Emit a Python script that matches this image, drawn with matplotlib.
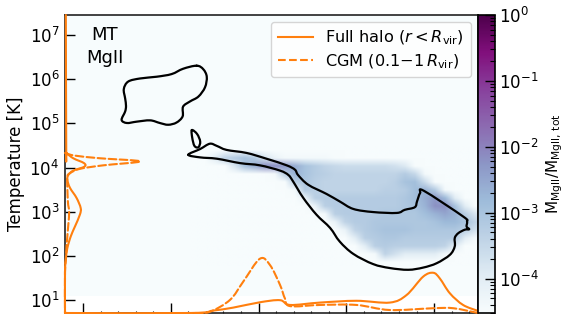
import numpy as np
import matplotlib
matplotlib.use("Agg")
import matplotlib.pyplot as plt
from matplotlib.colors import LogNorm
from matplotlib.cm import ScalarMappable
from matplotlib.lines import Line2D
from matplotlib.patches import PathPatch
from matplotlib.path import Path
from matplotlib.ticker import MultipleLocator

# Mass-weighted phase histogram: -10*log10(fraction); 0 = empty cell
heat_rows = [
    [0]*29,
    [0,0,40,34,32,30,32,38,42,44,44,44,44,44,45]+[0]*14,
    [0,0,0,0,38,30,26,22,22,23,26,30,32,34,35,36,36,36,36,36,37,39,45]+[0]*6,
    [0]*8+[44,33,27,30,32,33,34,34,34,34,34,34,34,32,35,44]+[0]*5,
    [0]*9+[45,33,31,33,34,34,34,34,34,34,34,33,30,29,36,45]+[0]*4,
    [0]*10+[44,32,33,34,34,34,34,34,34,33,33,32,29,27,32,44]+[0]*3,
    [0]*11+[42,33,32,32,32,32,32,32,32,32,31,29,26,23,28,40]+[0]*2,
    [0]*12+[42,33,32,32,32,32,32,32,32,31,30,27,22,22,30,40,46],
    [0]*13+[44,33,32,32,32,32,31,31,31,31,29,27,25,27,33,38],
    [0]*14+[42,34,32,32,31,31,31,31,31,31,30,28,28,30,34],
    [0]*15+[42,34,32,31,30,30,30,31,31,31,31,31,33,37],
    [0]*16+[40,33,32,31,31,32,32,32,32,32,32,40,44],
    [0]*17+[40,33,32,33,33,33,33,33,34,40,0,0],
    [0]*18+[44,34,37,40,40,40,40,44,0,0,0],
    [0]*19+[46,48]+[0]*8,
]
heat_x_range = [-3.56, 3.05]
heat_logt_range = [1.77, 4.49]
full_x_range = [-6.41, 3.0]
full_logt_range = [1.09, 7.46]

blob_x = [-3.41,-3.26,-3.18,-3.22,-3.37,-3.56,-3.72,-3.73,-3.87,-4.06,-4.25,-4.47,-4.78,-5.00,-5.12,-5.04,-5.02,-5.04,-5.07,-4.97,-4.70,-4.32,-3.98,-3.72,-3.41]
blob_t = [6.31,6.23,6.06,5.82,5.61,5.50,5.38,5.16,5.02,4.97,5.01,5.07,5.04,5.01,5.08,5.27,5.40,5.57,5.78,5.95,6.02,6.06,6.12,6.24,6.31]
small_x = [-3.52,-3.40,-3.33,-3.37,-3.46,-3.51,-3.52]
small_t = [4.85,4.76,4.59,4.46,4.49,4.67,4.85]
main_x = [-3.60,-3.33,-3.11,-2.95,-2.73,-2.27,-1.82,-1.36,-1.17,-1.10,-0.87,-0.45,-0.15,0.16,0.61,1.15,1.33,1.56,1.61,1.68,1.77,2.66,2.75,2.74,2.80,2.70,2.55,2.47,2.47,2.36,2.06,1.75,1.41,0.99,0.61,0.16,-0.15,-0.37,-0.68,-0.98,-1.21,-1.32,-1.51,-1.97,-2.42,-2.95,-3.33,-3.60]
main_t = [4.29,4.42,4.54,4.49,4.40,4.33,4.20,4.05,3.95,3.83,3.61,3.40,3.23,3.06,2.99,2.97,3.04,3.10,3.23,3.42,3.47,2.89,2.78,2.66,2.60,2.59,2.51,2.40,2.21,2.02,1.83,1.73,1.68,1.72,1.81,2.04,2.32,2.63,2.93,3.31,3.68,3.83,3.93,4.05,4.10,4.20,4.23,4.29]

# Temperature marginals (fraction of axis width)
tm_logt = [7.46,4.40,4.33,4.21,4.10,4.02,3.93,3.83,3.72,3.54,3.31,3.08,2.93,2.66,2.44,2.17,1.91,1.63,0.70]
tm_full = [0.002,0.003,0.004,0.020,0.046,0.047,0.020,0.008,0.0056,0.012,0.028,0.038,0.036,0.024,0.014,0.0056,0.002,0.0,0.0]
tc_logt = [4.33,4.27,4.21,4.14,4.05,3.97,3.87,3.76,3.23,3.00,2.70,2.25,1.91,1.63,0.70]
tc_cgm = [0.0,0.024,0.085,0.182,0.093,0.036,0.012,0.0056,0.007,0.010,0.008,0.004,0.002,0.0,0.0]

# Density marginals (fraction of axis height)
dm_x = [-6.41,-3.56,-3.04,-2.58,-1.97,-1.51,-1.28,-0.60,0.23,0.99,1.37,1.75,1.98,2.13,2.36,2.66,3.0]
dm_full = [0.0,0.0,0.008,0.018,0.036,0.043,0.027,0.035,0.041,0.035,0.060,0.122,0.135,0.116,0.066,0.027,0.007]
dc_x = [-3.45,-3.11,-2.65,-2.35,-1.97,-1.74,-1.51,-1.40,-1.28,-0.60,0.23,0.99,1.98,2.44,3.0]
dc_cgm = [0.0,0.004,0.044,0.105,0.182,0.161,0.094,0.049,0.023,0.027,0.027,0.010,0.016,0.016,0.0]

y_ticks = [1, 2, 3, 4, 5, 6, 7]
x_ticks = [-6, -4, -2, 0, 2]
cbar_ticks = [1e-4, 1e-3, 1e-2, 1e-1, 1]
legend_labels = [r"Full halo ($r < R_{\rm vir}$)", r"CGM ($0.1{-}1\,R_{\rm vir}$)"]

ORANGE = "#ff7f0e"
DASH = (0, (3.7, 1.6))


def curve(a, xs, ys, **kw):
    """Draw a curve through the read points as a smooth Bezier path."""
    p = np.column_stack([xs, ys]).astype(float)
    closed = np.allclose(p[0], p[-1])
    verts, codes = [p[0]], [Path.MOVETO]
    n = len(p)
    for i in range(n - 1):
        if closed:
            p0, p3 = p[(i - 1) % (n - 1)], p[(i + 2) % (n - 1)]
        else:
            p0, p3 = p[max(i - 1, 0)], p[min(i + 2, n - 1)]
        c1 = p[i] + (p[i + 1] - p0) / 6
        c2 = p[i + 1] - (p3 - p[i]) / 6
        verts += [c1, c2, p[i + 1]]
        codes += [Path.CURVE4] * 3
    a.add_patch(PathPatch(Path(verts, codes), fill=False, capstyle="round", joinstyle="round", **kw))


W, H = 571, 314
fig = plt.figure(figsize=(W/100, H/100), dpi=100)
pos = [65/W, 1/H, 413/W, 298/H]
ax = fig.add_axes(pos)
norm = LogNorm(vmin=3e-5, vmax=1)
cmap = plt.get_cmap("BuPu")

ax.imshow([[3e-5]], extent=[full_x_range[0], full_x_range[1], full_logt_range[0], full_logt_range[1]],
          cmap=cmap, norm=norm, aspect="auto", interpolation="nearest", zorder=0)
h = np.array(heat_rows, dtype=float)
h = np.where(h > 0, 10.0**(-h/10), 3e-5)
ax.imshow(h, extent=[heat_x_range[0], heat_x_range[1], heat_logt_range[0], heat_logt_range[1]],
          cmap=cmap, norm=norm, aspect="auto", origin="upper", interpolation="bilinear",
          interpolation_stage="rgba", zorder=1)
ax.set_xlim(-6.41, 3.0)
ax.set_ylim(0.70, 7.46)

for xs, ts in [(blob_x, blob_t), (small_x, small_t), (main_x, main_t)]:
    curve(ax, xs, ts, edgecolor="black", lw=1.6, zorder=3)

ax.set_xticks(x_ticks)
ax.set_xticklabels([])
ax.xaxis.set_minor_locator(MultipleLocator(0.4))
ax.set_yticks(y_ticks)
ax.set_yticklabels([f"$\\mathdefault{{10^{{{t}}}}}$" for t in y_ticks], fontsize=12)
ax.tick_params(axis="both", which="major", direction="in", length=7, width=1.0, color="black")
ax.tick_params(axis="x", which="minor", direction="in", length=1.5, width=0.8)
ax.tick_params(axis="y", which="major", pad=4)
ax.set_ylabel("Temperature [K]", fontsize=12, labelpad=3)
for s in ax.spines.values():
    s.set_linewidth(1.2)
    s.set_color("#222222")

# overlay: marginal distributions
ax_d = ax.twinx()
ax_d.set_ylim(0, 1)
ax_d.set_yticks([])
ax_d.set_xlim(-6.41, 3.0)
curve(ax_d, dm_x, dm_full, edgecolor=ORANGE, lw=1.5, clip_on=False)
curve(ax_d, dc_x, dc_cgm, edgecolor=ORANGE, lw=1.5, ls=DASH, clip_on=False)
ax_t = ax.twiny()
ax_t.set_xlim(0, 1)
ax_t.set_xticks([])
ax_t.set_ylim(0.70, 7.46)
curve(ax_t, tm_full, tm_logt, edgecolor=ORANGE, lw=1.5, clip_on=False)
curve(ax_t, tc_cgm, tc_logt, edgecolor=ORANGE, lw=1.5, ls=DASH, clip_on=False)
for a in (ax_d, ax_t):
    for s in a.spines.values():
        s.set_visible(False)

handles = [Line2D([], [], color=ORANGE, lw=1.5), Line2D([], [], color=ORANGE, lw=1.5, ls=DASH)]
ax_t.legend(handles, legend_labels, loc="upper right", fontsize=11.6, frameon=True, framealpha=0.8,
            edgecolor="#cccccc", borderaxespad=0.45, labelspacing=0.3, borderpad=0.42,
            handlelength=2.2, handletextpad=0.75)

ax.text(105/W, 1-35/H, "MT", transform=fig.transFigure, ha="center", va="center", fontsize=13, zorder=5)
ax.text(105/W, 1-58/H, "MgII", transform=fig.transFigure, ha="center", va="center", fontsize=13, zorder=5)

cax = fig.add_axes([478/W, 1/H, 17/W, 298/H])
sm = ScalarMappable(norm=norm, cmap=cmap)
cb = fig.colorbar(sm, cax=cax)
cb.set_ticks(cbar_ticks)
cb.ax.tick_params(which="major", direction="in", length=7, width=1.0, labelsize=12, pad=3)
cb.ax.tick_params(which="minor", direction="in", length=3.5, width=0.8)
cb.outline.set_linewidth(1.2)
cb.set_label(r"$\mathrm{M_{MgII}/M_{MgII,\,tot}}$", fontsize=11, labelpad=4)

fig.savefig("out.png", dpi=100)
